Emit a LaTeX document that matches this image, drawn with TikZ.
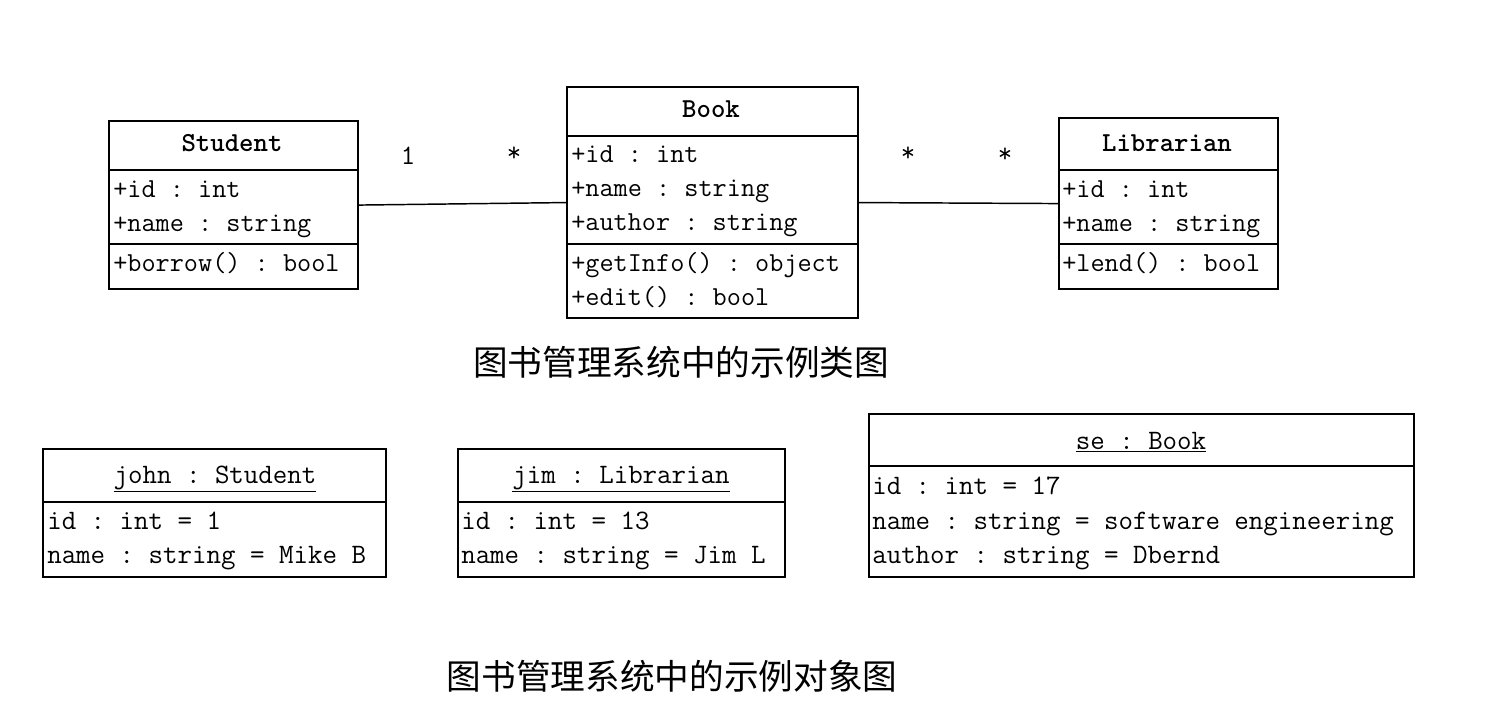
\documentclass[tikz,border=0pt]{standalone}
\usepackage{fontspec}
\newfontfamily\cjk{Noto Sans CJK SC}
\frenchspacing
\begin{document}
\begin{tikzpicture}[x=0.75pt,y=-0.75pt,
  umlbox/.style={draw, line width=1.6pt, inner sep=0pt, anchor=north west},
  divider/.style={line width=1.6pt},
  assoc/.style={line width=1.1pt},
  txt/.style={anchor=base west, inner sep=0pt, font=\frenchspacing\ttfamily\fontsize{20.6pt}{22pt}\selectfont},
  otxt/.style={anchor=base west, inner sep=0pt, font=\frenchspacing\ttfamily\fontsize{21.1pt}{22pt}\selectfont},
  ttl/.style={anchor=base, inner sep=0pt, font=\ttfamily\bfseries\fontsize{20.6pt}{22pt}\selectfont},
  ottl/.style={anchor=base, inner sep=0pt, font=\frenchspacing\ttfamily\fontsize{21.1pt}{22pt}\selectfont},
  mult/.style={inner sep=0pt, font=\ttfamily\fontsize{21pt}{22pt}\selectfont},
  captiontext/.style={inner sep=0pt, font=\cjk\fontsize{26pt}{30pt}\selectfont}
]
\useasboundingbox (0,0) rectangle (1489,720);
\fill[white] (0,0) rectangle (1489,720);

% ---------- class diagram ----------
\node[umlbox, minimum width={249*0.75pt}, minimum height={168*0.75pt}] (student) at (108,120) {};
\draw[divider] (student.west |- 0,170) -- (student.east |- 0,170);
\draw[divider] (student.west |- 0,244) -- (student.east |- 0,244);
\node[ttl] (studentT) at (232,152) {Student};
\node[txt] (s1) at (113,198) {+id : int};
\node[txt] (s2) at (113,232) {+name : string};
\node[txt] (s3) at (113,272) {+borrow() : bool};

\node[umlbox, minimum width={291*0.75pt}, minimum height={231*0.75pt}] (book) at (566,86) {};
\draw[divider] (book.west |- 0,136) -- (book.east |- 0,136);
\draw[divider] (book.west |- 0,244) -- (book.east |- 0,244);
\node[ttl] (bookT) at (711,118) {Book};
\node[txt] (b1) at (571,163) {+id : int};
\node[txt] (b2) at (571,197) {+name : string};
\node[txt] (b3) at (571,231) {+author : string};
\node[txt] (b4) at (571,272) {+getInfo() : object};
\node[txt] (b5) at (571,306) {+edit() : bool};

\node[umlbox, minimum width={219*0.75pt}, minimum height={171*0.75pt}] (librarian) at (1058,117) {};
\draw[divider] (librarian.west |- 0,170) -- (librarian.east |- 0,170);
\draw[divider] (librarian.west |- 0,244) -- (librarian.east |- 0,244);
\node[ttl] (librarianT) at (1167,152) {Librarian};
\node[txt] (l1) at (1062,198) {+id : int};
\node[txt] (l2) at (1062,232) {+name : string};
\node[txt] (l3) at (1062,272) {+lend() : bool};

\draw[assoc] (student.east) -- (book.west);
\draw[assoc] (book.east) -- (librarian.west);
\node[mult] (m1) at (408,156) {1};
\node[mult] (m2) at (514,154) {*};
\node[mult] (m3) at (908,154) {*};
\node[mult] (m4) at (1005,155) {*};

\node[captiontext] (cap1) at (681,362) {图书管理系统中的示例类图};

% ---------- object diagram ----------
\node[umlbox, minimum width={343*0.75pt}, minimum height={128*0.75pt}] (john) at (42,448) {};
\draw[divider] (john.west |- 0,502) -- (john.east |- 0,502);
\node[ottl] (johnT) at (215,483) {\underline{john : Student}};
\node[otxt] (j1) at (47,529) {id : int = 1};
\node[otxt] (j2) at (47,563) {name : string = Mike B};

\node[umlbox, minimum width={327*0.75pt}, minimum height={128*0.75pt}] (jim) at (457,448) {};
\draw[divider] (jim.west |- 0,502) -- (jim.east |- 0,502);
\node[ottl] (jimT) at (621,483) {\underline{jim : Librarian}};
\node[otxt] (i1) at (461,529) {id : int = 13};
\node[otxt] (i2) at (461,563) {name : string = Jim L};

\node[umlbox, minimum width={545*0.75pt}, minimum height={163*0.75pt}] (se) at (868,413) {};
\draw[divider] (se.west |- 0,466) -- (se.east |- 0,466);
\node[ottl] (seT) at (1141,449) {\underline{se : Book}};
\node[otxt] (e1) at (872,494) {id : int = 17};
\node[otxt] (e2) at (872,529) {name : string = software engineering};
\node[otxt] (e3) at (872,563) {author : string = Dbernd};

\node[captiontext] (cap2) at (672,676) {图书管理系统中的示例对象图};
\end{tikzpicture}
\end{document}
